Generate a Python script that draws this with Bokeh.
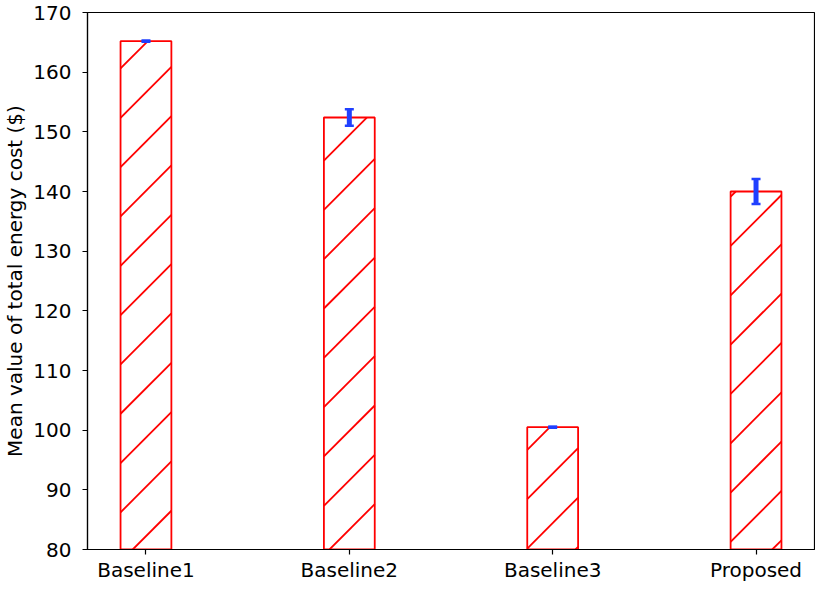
import math
from bokeh.plotting import figure
from bokeh.models import Range1d, FixedTicker, Whisker, TeeHead, ColumnDataSource
from bokeh.embed import file_html
from bokeh.resources import INLINE

categories = ["Baseline1", "Baseline2", "Baseline3", "Proposed"]
means = [165.2, 152.4, 100.5, 140.0]
errors = [0.1, 1.4, 0.1, 2.1]
y_ticks = [80, 90, 100, 110, 120, 130, 140, 150, 160, 170]
y_title = "Mean value of total energy cost ($)"

BAR_W = 0.25
X0, X1 = -0.2875, 3.2875
Y0, Y1 = 80, 170
FIG_W, FIG_H = 815, 584
FRAME_W, FRAME_H = 733, 540   # approximate frame size, used only for the hatch angle

xs = list(range(len(categories)))
src = ColumnDataSource(dict(
    x=xs, top=means,
    lower=[m - e for m, e in zip(means, errors)],
    upper=[m + e for m, e in zip(means, errors)],
))

# 45-degree "/" hatch lines, derived from each bar's extent (style only)
P, OFF = 49.6, 4.0
sx = FRAME_W / (X1 - X0)
sy = FRAME_H / (Y1 - Y0)
hx0, hy0, hx1, hy1 = [], [], [], []
for c, t in zip(xs, means):
    XL = (c - BAR_W / 2 - X0) * sx
    XR = (c + BAR_W / 2 - X0) * sx
    YB, YT = 0.0, (t - Y0) * sy
    k0 = math.ceil((YB - XR - OFF) / P)
    k1 = math.floor((YT - XL - OFF) / P)
    for k in range(k0, k1 + 1):
        d = OFF + k * P
        a = max(XL, YB - d)
        b = min(XR, YT - d)
        if b > a:
            hx0.append(a / sx + X0); hy0.append((a + d) / sy + Y0)
            hx1.append(b / sx + X0); hy1.append((b + d) / sy + Y0)

FONT = "DejaVu Sans"

p = figure(width=FIG_W, height=FIG_H, output_backend="svg", toolbar_location=None,
           x_range=Range1d(X0, X1), y_range=Range1d(Y0, Y1),
           min_border_left=81, min_border_right=1, min_border_top=12, min_border_bottom=20)

p.vbar(x="x", top="top", bottom=0, width=BAR_W, source=src,
       fill_color="white", line_color="#ff0000", line_width=1.8)
p.segment(x0=hx0, y0=hy0, x1=hx1, y1=hy1, line_color="#ff0000", line_width=1.8)

w = Whisker(base="x", lower="lower", upper="upper", source=src, level="overlay",
            line_color="#2040ff", line_width=5,
            upper_head=TeeHead(size=9, line_color="#2040ff", line_width=2.5),
            lower_head=TeeHead(size=9, line_color="#2040ff", line_width=2.5))
p.add_layout(w)

p.grid.visible = False
p.outline_line_color = "black"
p.outline_line_width = 1.2
p.background_fill_color = "white"
p.border_fill_color = "white"

p.xaxis.ticker = FixedTicker(ticks=xs)
p.xaxis.major_label_overrides = {i: c for i, c in zip(xs, categories)}
p.xaxis.axis_label = None
p.yaxis.ticker = FixedTicker(ticks=y_ticks)
p.yaxis.axis_label = y_title

for ax in (p.xaxis[0], p.yaxis[0]):
    ax.major_label_text_font = FONT
    ax.major_label_text_font_size = "20px"
    ax.major_label_text_color = "black"
    ax.axis_label_text_font = FONT
    ax.axis_label_text_font_size = "20px"
    ax.axis_label_text_font_style = "normal"
    ax.axis_label_text_color = "black"
    ax.major_tick_out = 5
    ax.major_tick_in = 0
    ax.minor_tick_out = 0
    ax.minor_tick_in = 0
    ax.axis_line_color = "black"
    ax.major_tick_line_color = "black"
    ax.axis_line_width = 1.2
    ax.major_tick_line_width = 1.2

p.yaxis.major_label_standoff = 11
p.xaxis.major_label_standoff = 3
p.yaxis.axis_label_standoff = 3

open("out.html", "w").write(file_html(p, INLINE))
